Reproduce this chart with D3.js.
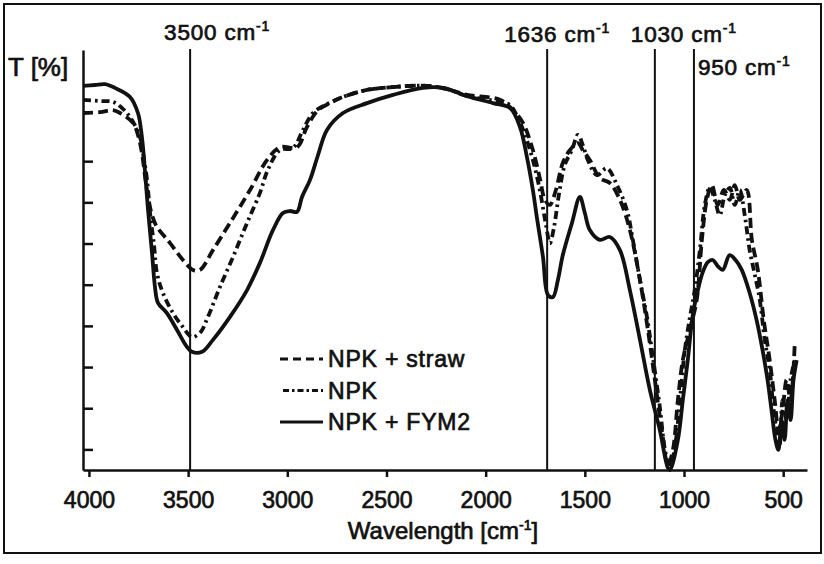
<!DOCTYPE html>
<html>
<head>
<meta charset="utf-8">
<script src="https://cdn.jsdelivr.net/npm/d3@7"></script>
<style>
  html, body { margin: 0; padding: 0; background: #fff; }
  svg text { font-family: "Liberation Sans", Arial, sans-serif; fill: #111; stroke: #111; stroke-width: 0.7px; }
  .axis path, .axis line { stroke: #111; stroke-width: 2.5px; }
  .axis text { font-size: 23px; }
  .marker-label, .legend-label { letter-spacing: 0.8px; }
</style>
</head>
<body>
<div id="chart"></div>
<script>
// FTIR spectra, [wavenumber cm-1, transmittance T]
const npkStraw = [
  [4030, 91.7], [3944, 91.9], [3879, 92.4], [3843, 91.7], [3778, 89.3], [3753, 86.4],
  [3733, 82.0], [3718, 76.6], [3702, 71.3], [3682, 66.9], [3657, 64.0], [3617, 61.6],
  [3591, 60.1], [3526, 56.0], [3476, 53.6], [3440, 53.6], [3375, 58.4], [3289, 65.0],
  [3188, 73.0], [3102, 80.3], [3037, 83.4], [2951, 83.4], [2901, 88.3], [2845, 92.4],
  [2785, 94.1], [2719, 95.6], [2598, 97.3], [2467, 98.0], [2296, 98.3], [2180, 97.3],
  [2094, 96.1], [1928, 94.9], [1862, 92.4], [1812, 89.3], [1762, 82.7], [1727, 75.9],
  [1701, 70.6], [1676, 69.4], [1646, 73.0], [1611, 79.6], [1575, 82.7], [1535, 84.4],
  [1510, 82.7], [1475, 80.3], [1424, 75.9], [1374, 74.7], [1323, 70.6], [1273, 63.3],
  [1222, 51.1], [1182, 39.0], [1147, 26.9], [1112, 14.7], [1081, 6.2], [1056, 9.9],
  [1031, 22.0], [1006, 31.7], [971, 39.0], [936, 46.3], [910, 60.9], [885, 70.6],
  [860, 74.2], [830, 69.4], [799, 73.0], [769, 70.6], [744, 74.2], [719, 70.6],
  [684, 73.0], [658, 60.9], [628, 53.6], [598, 41.4], [568, 31.7], [543, 22.0],
  [523, 14.7], [503, 19.6], [483, 26.9], [463, 22.0], [442, 35.4]
];

const npk = [
  [4030, 94.9], [3944, 94.6], [3879, 94.4], [3833, 92.9], [3793, 90.7], [3743, 85.9],
  [3722, 80.3], [3707, 75.4], [3692, 67.4], [3672, 59.6], [3657, 52.8], [3627, 48.0],
  [3576, 43.1], [3526, 39.7], [3481, 37.3], [3440, 38.3], [3400, 42.2], [3340, 49.4],
  [3274, 56.7], [3203, 65.0], [3138, 72.3], [3098, 77.9], [3037, 82.7], [2972, 83.2],
  [2921, 87.6], [2871, 91.7], [2810, 93.6], [2719, 95.6], [2598, 97.3], [2467, 98.0],
  [2296, 98.3], [2180, 97.3], [2094, 95.8], [1928, 94.4], [1877, 93.6], [1837, 90.5],
  [1802, 86.4], [1762, 80.3], [1727, 73.0], [1696, 64.5], [1676, 60.1], [1656, 63.8],
  [1631, 71.8], [1601, 79.1], [1565, 82.7], [1535, 86.4], [1510, 83.9], [1485, 80.3],
  [1439, 76.6], [1389, 78.3], [1338, 74.2], [1288, 68.1], [1258, 60.9], [1222, 51.1],
  [1187, 42.2], [1157, 32.4], [1122, 20.3], [1096, 9.9], [1071, 5.5], [1041, 12.3],
  [1021, 22.0], [996, 34.1], [971, 41.9], [946, 48.7], [920, 58.4], [895, 69.4],
  [870, 73.7], [845, 70.6], [820, 66.9], [794, 71.8], [769, 73.5], [744, 69.4],
  [719, 73.0], [694, 66.9], [669, 58.4], [643, 52.4], [618, 46.3], [593, 36.6],
  [568, 29.3], [548, 19.6], [533, 14.7], [518, 11.1], [503, 22.0], [483, 17.1],
  [463, 26.9], [442, 31.7]
];

const npkFym2 = [
  [4030, 98.3], [3970, 98.5], [3919, 98.7], [3869, 97.8], [3793, 95.6], [3753, 91.7],
  [3733, 85.9], [3718, 77.9], [3702, 68.1], [3682, 57.7], [3667, 49.4], [3652, 45.6],
  [3607, 43.1], [3556, 39.0], [3506, 34.9], [3481, 33.7], [3430, 33.7], [3375, 36.6],
  [3289, 42.2], [3203, 48.7], [3138, 55.3], [3072, 63.3], [3022, 67.4], [2987, 67.9],
  [2951, 67.7], [2926, 71.3], [2886, 75.4], [2845, 81.5], [2800, 87.6], [2719, 91.7],
  [2598, 94.1], [2467, 96.1], [2316, 97.8], [2215, 97.8], [2094, 95.8], [1963, 94.1],
  [1877, 92.9], [1827, 88.3], [1792, 81.0], [1762, 73.0], [1742, 66.4], [1711, 56.7],
  [1686, 47.5], [1661, 47.0], [1636, 51.1], [1611, 57.2], [1565, 65.0], [1525, 71.3],
  [1500, 67.4], [1475, 63.3], [1424, 60.9], [1374, 61.6], [1323, 58.4], [1273, 48.7],
  [1222, 36.6], [1172, 24.4], [1122, 14.7], [1081, 5.5], [1071, 5.0], [1031, 12.3],
  [1006, 22.0], [981, 31.7], [956, 42.6], [930, 48.7], [905, 53.1], [880, 55.5],
  [855, 56.0], [830, 54.5], [805, 53.6], [770, 57.2], [740, 56.0], [709, 53.6],
  [669, 48.0], [634, 41.4], [604, 34.1], [579, 26.9], [559, 19.6], [539, 12.3],
  [524, 9.9], [508, 17.1], [493, 12.3], [478, 22.0], [463, 17.1], [448, 26.9], [432, 31.7]
];

const seriesNames = ["NPK + straw", "NPK", "NPK + FYM2"];
const xTicks = [4000, 3500, 3000, 2500, 2000, 1500, 1000, 500];
const yTicks = [10, 20, 30, 40, 50, 60, 70, 80];
// marker lines: where they are drawn and what they are labelled
const markerPos = [3490, 1690, 1147, 950];
const markerLabels = ["3500", "1636", "1030", "950"];

// layout
const W = 824, H = 564;
const plot = { left: 83, right: 807, top: 50, bottom: 470 };
const dashes = ["10,5", "8,4,2.5,4", null];
const labelOffset = [[-26, 40], [-43, 42], [-24, 42], [4, 75]];

const svg = d3.select("#chart").append("svg")
  .attr("width", W).attr("height", H);

svg.append("rect").attr("width", W).attr("height", H).attr("fill", "#fff");
svg.append("rect")
  .attr("x", 4).attr("y", 4).attr("width", 817).attr("height", 549)
  .attr("fill", "none").attr("stroke", "#111").attr("stroke-width", 2);

const x = d3.scaleLinear().domain([4030, 380]).range([plot.left, plot.right]);
const y = d3.scaleLinear().domain([5, 107]).range([plot.bottom, plot.top]);

// marker lines
markerPos.forEach((w, i) => {
  svg.append("line")
    .attr("x1", x(w)).attr("x2", x(w))
    .attr("y1", y(107) - 1).attr("y2", y(5))
    .attr("stroke", "#111").attr("stroke-width", 2);
  const t = svg.append("text").attr("class", "marker-label")
    .attr("x", x(w) + labelOffset[i][0]).attr("y", labelOffset[i][1])
    .attr("font-size", 22.5);
  t.append("tspan").text(markerLabels[i] + " cm");
  t.append("tspan").attr("dy", -9).attr("font-size", 14).text("-1");
});

// axes
svg.append("g").attr("class", "axis")
  .attr("transform", `translate(0,${plot.bottom})`)
  .call(d3.axisBottom(x).tickValues(xTicks).tickSize(7).tickSizeOuter(0)
    .tickPadding(15).tickFormat(d3.format("d")));

svg.append("g").attr("class", "axis")
  .attr("transform", `translate(${plot.left},0)`)
  .call(d3.axisLeft(y).tickValues(yTicks).tickSize(-10).tickSizeOuter(0).tickFormat(""));

// spectra
const line = d3.line()
  .x(d => x(d[0])).y(d => y(d[1]))
  .curve(d3.curveCatmullRom.alpha(0.5));

[npkStraw, npk, npkFym2].forEach((s, i) => {
  svg.append("path").datum(s)
    .attr("fill", "none").attr("stroke", "#111")
    .attr("stroke-width", 3.8)
    .attr("stroke-linejoin", "round")
    .attr("stroke-dasharray", dashes[i])
    .attr("d", line);
});

// axis titles
svg.append("text").attr("x", 8).attr("y", 76).attr("font-size", 26).text("T [%]");
const xt = svg.append("text").attr("x", 443).attr("y", 539)
  .attr("text-anchor", "middle").attr("font-size", 24);
xt.append("tspan").text("Wavelength [cm");
xt.append("tspan").attr("dy", -9).attr("font-size", 14).text("-1");
xt.append("tspan").attr("dy", 9).text("]");

// legend
const legend = svg.append("g").attr("transform", "translate(280,359)");
seriesNames.forEach((name, i) => {
  const row = legend.append("g").attr("transform", `translate(0,${i * 31.5})`);
  row.append("line")
    .attr("x1", i === 1 ? 3 : 0).attr("x2", 43).attr("y1", 0).attr("y2", 0)
    .attr("stroke", "#111").attr("stroke-width", 3.2)
    .attr("stroke-dasharray", i === 0 ? "8,5" : i === 1 ? "6,3,2.5,3" : null);
  row.append("text").attr("class", "legend-label")
    .attr("x", 48).attr("y", 8).attr("font-size", 23).text(name);
});
</script>
</body>
</html>
